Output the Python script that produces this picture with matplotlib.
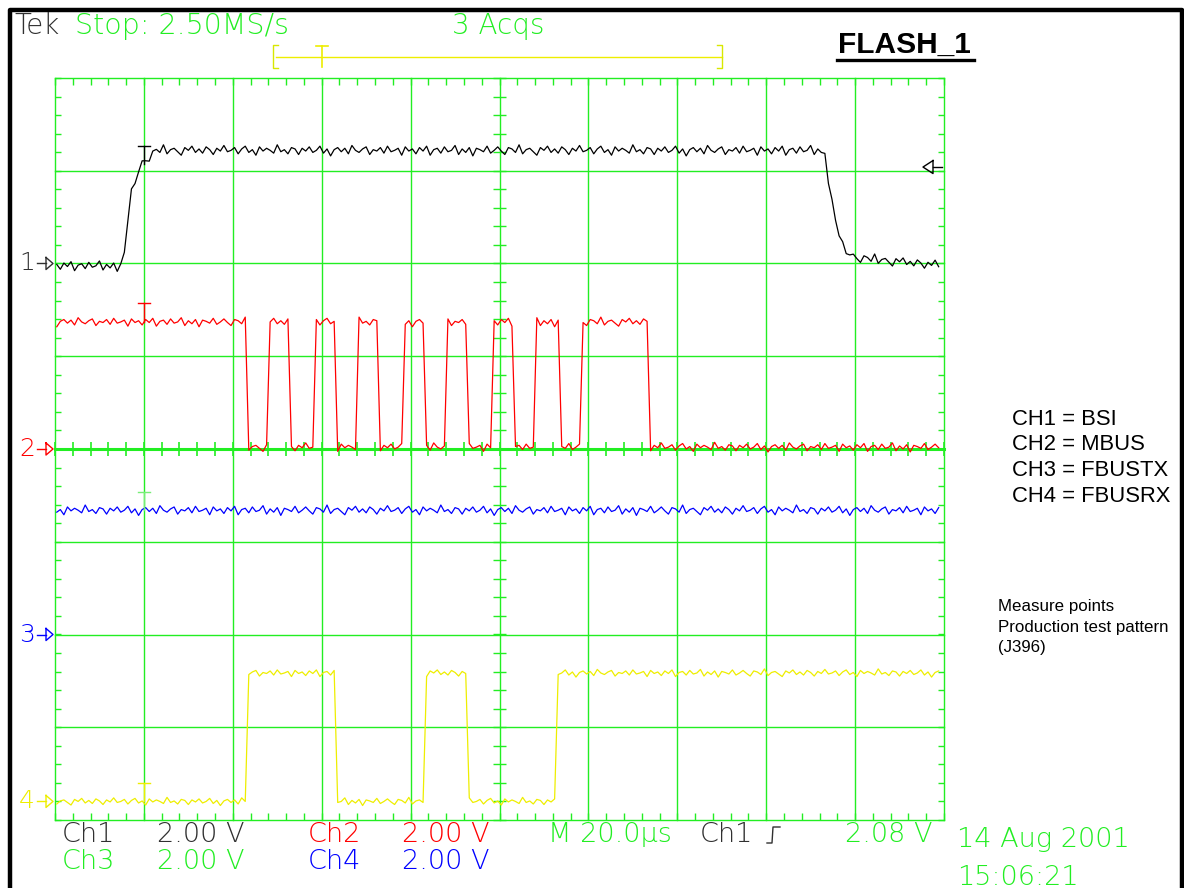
import numpy as np
import matplotlib.pyplot as plt
from matplotlib.lines import Line2D

W, H = 1184, 888

# 20 us/div over 10 div, 2 V/div on every channel
t_trig = 20.0
trig_level = 2.08

# CH1 (BSI) corner points, time [us] / volts
ch1_t = [0, 15.3, 16.9, 18.2, 19.8, 22.9, 173.0, 173.7, 174.4, 175.0, 175.9, 177.3, 179.3, 200]
ch1_v = [-0.05, -0.05, 1.42, 1.85, 2.18, 2.44, 2.44, 2.0, 1.64, 1.19, 0.78, 0.35, 0.13, -0.05]

# CH2 (MBUS) high periods [us]
ch2_high = [(0, 43.2), (48.4, 53.1), (58.7, 63.2), (68.4, 73.1), (78.5, 83.2),
            (88.4, 92.9), (98.5, 103.3), (108.4, 113.4), (118.6, 133.4)]
ch2_lo, ch2_hi = 0.04, 2.74

# CH3 (FBUSTX) stays high
ch3_level = 2.68

# CH4 (FBUSRX) high periods [us]
ch4_high = [(43.2, 63.2), (83.5, 92.7), (112.9, 200)]
ch4_lo, ch4_hi = 0.0, 2.77

# ground marker of each channel, in divisions from centre
ground_div = [2.0, 0.0, -2.0, -3.8]
colors = ['#000000', '#ff0000', '#0000ff', '#eeee00']
noise_amp = [0.15, 0.13, 0.14, 0.11]

# trace jitter (fraction of noise amplitude)
jit = [0.2, -0.5, 0.4, -0.1, 0.6, -0.7, 0.1, 0.3, -0.4, 0.5, -0.2, 0.0, 0.7, -0.6, 0.2, -0.3, 0.4, -0.8, 0.3, 0.1,
       -0.2, 0.6, -0.4, 0.0, 0.5, -0.1, -0.6, 0.4, 0.2, -0.3, 0.8, -0.5, 0.1, 0.3, -0.2, -0.7, 0.4, 0.0, 0.6, -0.3,
       0.2, -0.4, 0.5, 0.1, -0.6, 0.3, -0.1, 0.7, -0.2, 0.0, 0.4, -0.5, 0.2, 0.6, -0.3, 0.1, -0.7, 0.5, -0.1, 0.3,
       0.0, -0.4, 0.8, -0.2, 0.1, -0.5, 0.4, 0.2, -0.6, 0.3, -0.1, 0.5, -0.3, 0.0, 0.6, -0.4, 0.2, -0.8, 0.1, 0.4,
       -0.2, 0.3, -0.5, 0.7, 0.0, -0.3, 0.2, 0.5, -0.6, 0.1, -0.1, 0.4, -0.4, 0.6, -0.2, 0.0, 0.3, -0.7, 0.5, -0.1]

GREEN = '#22ee22'
TEK = ['DejaVu Sans']


def digital(t, high, lo, hi):
    v = np.full_like(t, lo)
    for a, b in high:
        v[(t >= a) & (t < b)] = hi
    return v


def px_t(x):
    # screen pixel column -> time [us]
    return (x - 55) / 88.9 * 20


def ftext(x, y, s, color, size, **kw):
    kw.setdefault('family', TEK)
    kw.setdefault('fontweight', 'light')
    fig.text(x / W, 1 - y / H, s, color=color, fontsize=size, va='baseline', ha='left', **kw)


def fline(xs, ys, color, lw, **kw):
    fig.add_artist(Line2D([x / W for x in xs], [1 - y / H for y in ys],
                          transform=fig.transFigure, color=color, lw=lw, **kw))


t = np.arange(0.4, 199.5, 0.8)
n = len(t)
base = [np.interp(t, ch1_t, ch1_v),
        digital(t, ch2_high, ch2_lo, ch2_hi),
        np.full_like(t, ch3_level),
        digital(t, ch4_high, ch4_lo, ch4_hi)]

fig = plt.figure(figsize=(W / 100, H / 100), dpi=100)
ax = fig.add_axes([55 / W, 1 - 820 / H, 889 / W, 742 / H])
ax.set_xlim(0, 200)
ax.set_ylim(-4, 4)
ax.axis('off')

# graticule
for k in range(11):
    ax.axvline(k * 20, color=GREEN, lw=1.0, clip_on=False, zorder=1)
for k in range(-4, 5):
    ax.axhline(k, color=GREEN, lw=2.2 if k == 0 else 1.0, clip_on=False, zorder=1)
tick_t = np.arange(0, 200.01, 4)
tick_d = np.arange(-4, 4.01, 0.2)
dy, dx = 0.075, 1.4
ax.vlines(tick_t, 4 - dy, 4, color=GREEN, lw=1.0, clip_on=False)
ax.vlines(tick_t, -4, -4 + dy, color=GREEN, lw=1.0, clip_on=False)
ax.vlines(tick_t, -dy, dy, color=GREEN, lw=1.2, clip_on=False)
ax.hlines(tick_d, 0, dx, color=GREEN, lw=1.0, clip_on=False)
ax.hlines(tick_d, 200 - dx, 200, color=GREEN, lw=1.0, clip_on=False)
ax.hlines(tick_d, 100 - dx, 100 + dx, color=GREEN, lw=1.0, clip_on=False)

# traces
for i in range(4):
    noise = np.resize(np.roll(jit, 23 * i), n) * noise_amp[i]
    y = ground_div[i] + (base[i] + noise) / 2
    ax.plot(t, y, color=colors[i], lw=0.9, zorder=3)

    # trigger position marker
    lvl = ground_div[i] + base[i][np.argmin(abs(t - t_trig))] / 2
    mc = '#77ee77' if i == 2 else colors[i]
    ax.plot([t_trig, t_trig], [lvl, lvl + 0.2], color=mc, lw=1.0, zorder=4, clip_on=False)
    ax.plot([t_trig - 1.4, t_trig + 1.4], [lvl + 0.2, lvl + 0.2], color=mc, lw=1.0, zorder=4, clip_on=False)

    # ground marker "n ->"
    g = ground_div[i]
    gc = '#303030' if i == 0 else colors[i]
    ax.text(px_t(27), g, str(i + 1), color=gc, fontsize=18, fontweight='light',
            ha='center', va='center', family=TEK, clip_on=False)
    ax.plot([px_t(37), px_t(46)], [g, g], color=gc, lw=1.0, clip_on=False)
    ax.plot([px_t(46), px_t(53), px_t(46), px_t(46)], [g + 0.065, g, g - 0.065, g + 0.065],
            color=gc, lw=1.0, clip_on=False)

# trigger level arrow on the right
tl = ground_div[0] + trig_level / 2
ax.plot([px_t(933), px_t(923), px_t(933), px_t(933)], [tl + 0.07, tl, tl - 0.07, tl + 0.07],
        color='black', lw=1.0, clip_on=False)
ax.plot([px_t(933), px_t(942)], [tl, tl], color='black', lw=1.0, clip_on=False)

# frame
fline([10, 10, 1182, 1182], [888, 10.5, 10.5, 888], 'black', 3.2)

# header
ftext(14, 34, 'Tek', '#303030', 20)
ftext(75, 34, 'Stop: 2.50MS/s', GREEN, 20.5)
ftext(452, 34, '3 Acqs', GREEN, 20)
fline([276, 722], [57, 57], '#eeee00', 1.0)
fline([278, 273, 273, 278], [45, 45, 68, 68], '#d8e800', 1.0)
fline([717, 722, 722, 717], [45, 45, 68, 68], '#d8e800', 1.0)
fline([322, 322], [46, 67], '#eeee00', 1.2)
fline([316, 328], [46, 46], '#eeee00', 1.2)

fig.text(838 / W, 1 - 53 / H, 'FLASH_1', family=['Liberation Sans'], fontweight='bold',
         fontsize=21.5, color='black', va='baseline', ha='left')
fline([837, 974], [60, 60], 'black', 2.4)

# channel legend
for k, s in enumerate(['CH1 = BSI', 'CH2 = MBUS', 'CH3 = FBUSTX', 'CH4 = FBUSRX']):
    ftext(1012, 425 + k * 25.5, s, 'black', 15.8, family=['Liberation Sans'], fontweight='normal')
for k, s in enumerate(['Measure points', 'Production test pattern', '(J396)']):
    ftext(998, 611 + k * 20.5, s, 'black', 12.2, family=['Liberation Sans'], fontweight='normal')

# scope readout
ftext(62, 842, 'Ch1', '#303030', 19.5)
ftext(157, 842, '2.00 V', '#303030', 19.5)
ftext(308, 842, 'Ch2', '#ff0000', 19.5)
ftext(402, 842, '2.00 V', '#ff0000', 19.5)
ftext(548, 842, 'M 20.0µs', GREEN, 19.5)
ftext(700, 842, 'Ch1', '#303030', 19.5)
fline([767, 772, 773, 780], [843, 843, 827, 827], '#303030', 1.0)
ftext(845, 842, '2.08 V', GREEN, 19.5)
ftext(62, 869, 'Ch3', GREEN, 19.5)
ftext(157, 869, '2.00 V', GREEN, 19.5)
ftext(308, 869, 'Ch4', '#0000ff', 19.5)
ftext(402, 869, '2.00 V', '#0000ff', 19.5)
ftext(957, 847, '14 Aug 2001', GREEN, 19.5)
ftext(957, 885, '15:06:21', GREEN, 19.5)

fig.savefig('out.png', dpi=100, facecolor='white')
